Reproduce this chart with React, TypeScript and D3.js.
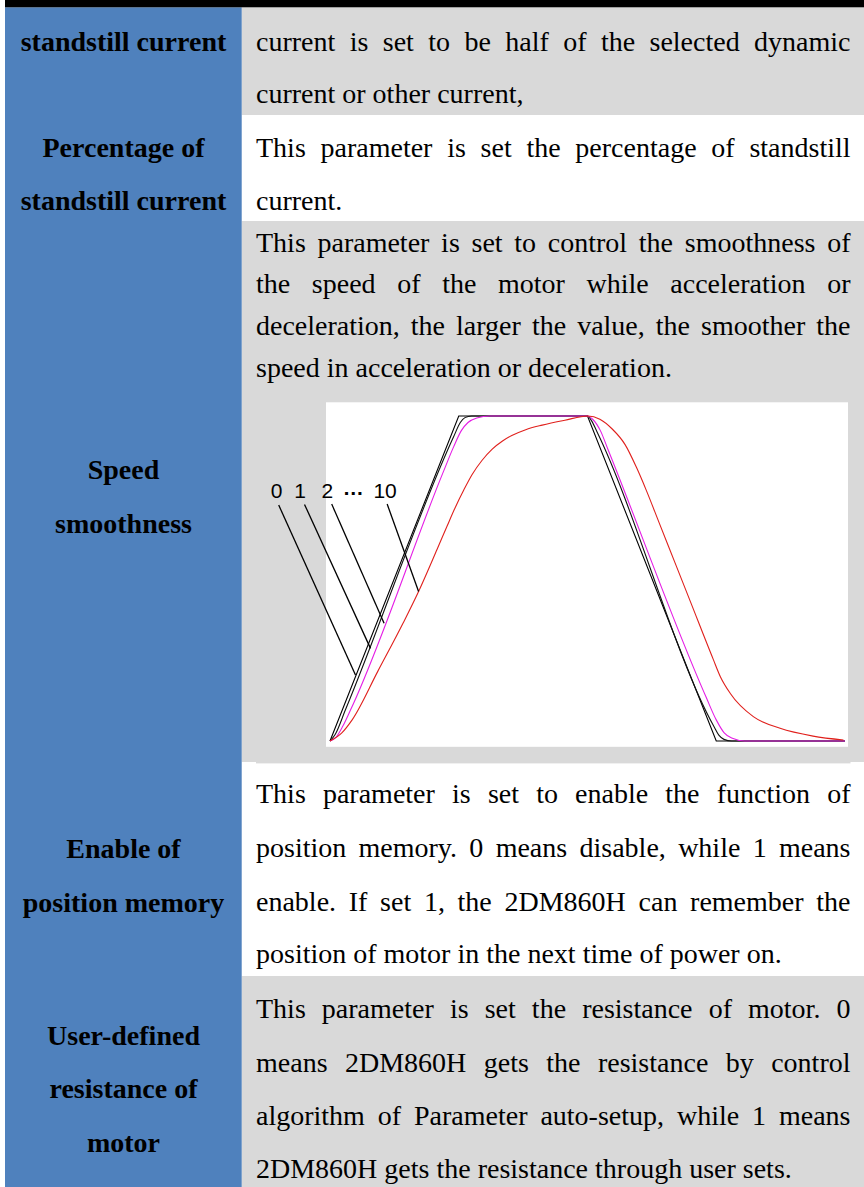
import React, { useEffect, useRef } from 'react';
import * as d3 from 'd3';

// ---- table content ----
const rowLabels = [
  ['standstill current'],
  ['Percentage of', 'standstill current'],
  ['Speed', 'smoothness'],
  ['Enable of', 'position memory'],
  ['User-defined', 'resistance of', 'motor'],
];

const rowTexts = [
  ['current is set to be half of the selected dynamic', 'current or other current,'],
  ['This parameter is set the percentage of standstill', 'current.'],
  [
    'This parameter is set to control the smoothness of',
    'the speed of the motor while acceleration or',
    'deceleration, the larger the value, the smoother the',
    'speed in acceleration or deceleration.',
  ],
  [
    'This parameter is set to enable the function of',
    'position memory. 0 means disable, while 1 means',
    'enable. If set 1, the 2DM860H can remember the',
    'position of motor in the next time of power on.',
  ],
  [
    'This parameter is set the resistance of motor. 0',
    'means 2DM860H gets the resistance by control',
    'algorithm of Parameter auto-setup, while 1 means',
    '2DM860H gets the resistance through user sets.',
  ],
];

// ---- speed smoothness curves: [time, speed] ----
const smooth0 = [[0, 0], [25, 100], [50, 100], [75, 0], [100, 0]];
const smooth1 = [
  [0, 0], [1, 2], [3, 9.6], [24, 93.6], [25.3, 98], [26.2, 99.5], [27.5, 100],
  [50, 100], [50.8, 98.5], [52, 94.6], [74.5, 4.6], [75.5, 1.8], [76.5, 0.5], [78, 0], [100, 0],
];
const smooth2 = [
  [0, 0], [1.2, 1.2], [2.5, 4.6], [4, 9.6], [22, 82.8], [24, 90.5], [25.5, 95.5],
  [26.8, 98], [28.5, 99.4], [31, 100], [50, 100], [51, 99], [52.5, 95.5], [54, 89.6],
  [73, 13.6], [75, 6.5], [76.5, 2.6], [78, 0.9], [80.5, 0], [100, 0],
];
const smooth10 = [
  [0, 0], [2.3, 2.5], [4.3, 6.5], [9.3, 21.5], [14.2, 36.3], [17.2, 46], [20.8, 59],
  [22.7, 66], [24.3, 71.8], [26, 77.3], [27.6, 82], [29.5, 86.3], [31.5, 89.8],
  [33.5, 92.3], [35.3, 94], [38, 95.8], [41.2, 97.2], [45.6, 98.7], [50.1, 100],
  [52.4, 99], [54.8, 96], [57.3, 91.2], [59.5, 84.2], [61.4, 77.2], [63.9, 67.2],
  [67, 54.8], [70, 42.8], [74.4, 25.2], [75.8, 19.8], [77.7, 14.7], [82.2, 7.5],
  [87.4, 3.9], [93.8, 1.5], [99.7, 0.3],
];

const smoothLabels = ['0', '1', '2', '\u2026', '10'];
const labelTime = [-10.35, -5.8, -0.5, 4.5, 10.7];
const labelSpeed = 74.8;
// leader lines from label to its curve
const leaderFrom = [[-9.96, 72.6], [-4.95, 72.8], [0.33, 72.9], [11.1, 72.9]];
const leaderTo = [[4.95, 20.3], [7.86, 28.5], [10.5, 36.2], [17.2, 46]];

const W = 864;
const H = 1187;

export default function App() {
  const svgRef = useRef(null);

  useEffect(() => {
    const svg = d3.select(svgRef.current);
    svg.selectAll('*').remove();

    const blue = '#4f81bd';
    const gray = '#d9d9d9';
    const colX = 241.7;
    const textL = 256;
    const textR = 850.5;

    const rows = [
      { y0: 7.3, y1: 115, fill: gray, labelY: [50.7], textY: [50.7, 103.3] },
      { y0: 115, y1: 221, fill: '#fff', labelY: [156.7, 210], textY: [156.7, 210] },
      { y0: 221, y1: 762, fill: gray, labelY: [479.3, 533.3], textY: [251.7, 293.3, 335, 376.7] },
      { y0: 762, y1: 976, fill: '#fff', labelY: [858.3, 911.7], textY: [803.3, 857.3, 910.7, 963.3] },
      { y0: 976, y1: H, fill: gray, labelY: [1045, 1098.3, 1151.7], textY: [1018.3, 1071.7, 1125, 1178.3] },
    ];

    svg.append('rect').attr('width', W).attr('height', H).attr('fill', '#fff');
    rows.forEach(r => {
      svg.append('rect')
        .attr('x', colX).attr('y', r.y0)
        .attr('width', W - colX).attr('height', r.y1 - r.y0)
        .attr('fill', r.fill);
    });
    // thin border line at top of row 4
    svg.append('rect').attr('x', textL).attr('y', 762).attr('width', textR - textL).attr('height', 1.4).attr('fill', gray);

    svg.append('rect').attr('x', 5).attr('y', 7.3).attr('width', colX - 5).attr('height', H - 7.3).attr('fill', blue);
    svg.append('rect').attr('x', 5).attr('y', 0).attr('width', W - 5).attr('height', 7.3).attr('fill', '#000');

    const serif = '"Liberation Serif", "Times New Roman", serif';

    // left column labels
    rowLabels.forEach((lines, i) => {
      lines.forEach((line, j) => {
        svg.append('text')
          .attr('x', 123.5).attr('y', rows[i].labelY[j])
          .attr('text-anchor', 'middle')
          .attr('font-family', serif).attr('font-size', 28).attr('font-weight', 'bold')
          .attr('fill', '#000')
          .text(line);
      });
    });

    // right column, justified
    rowTexts.forEach((lines, i) => {
      lines.forEach((line, j) => {
        const yy = rows[i].textY[j];
        const last = j === lines.length - 1;
        const words = last ? [line] : line.split(' ');
        const nodes = words.map(w => svg.append('text')
          .attr('y', yy)
          .attr('font-family', serif).attr('font-size', 28)
          .attr('fill', '#000')
          .text(w));
        if (words.length === 1) {
          nodes[0].attr('x', textL);
          return;
        }
        const widths = nodes.map(n => (n.node() as SVGTextElement).getComputedTextLength());
        const gap = (textR - textL - d3.sum(widths)) / (words.length - 1);
        let cx = textL;
        nodes.forEach((n, k) => {
          n.attr('x', cx);
          cx += widths[k] + gap;
        });
      });
    });

    // embedded speed chart
    svg.append('rect').attr('x', 326).attr('y', 402.3).attr('width', 522).attr('height', 344.5).attr('fill', '#fff');

    const x = d3.scaleLinear().domain([0, 100]).range([330, 845]);
    const y = d3.scaleLinear().domain([0, 100]).range([741, 416]);

    const series = [
      { pts: smooth0, color: '#000', curve: d3.curveLinear },
      { pts: smooth1, color: '#111', curve: d3.curveMonotoneX },
      { pts: smooth2, color: '#e51ee5', curve: d3.curveMonotoneX },
      { pts: smooth10, color: '#e0201c', curve: d3.curveMonotoneX },
    ];
    series.forEach(s => {
      const line = d3.line<number[]>()
        .x(d => x(d[0]))
        .y(d => y(d[1]))
        .curve(s.curve);
      svg.append('path')
        .attr('d', line(s.pts))
        .attr('fill', 'none')
        .attr('stroke', s.color)
        .attr('stroke-width', 1.1);
    });

    leaderFrom.forEach((f, i) => {
      svg.append('line')
        .attr('x1', x(f[0])).attr('y1', y(f[1]))
        .attr('x2', x(leaderTo[i][0])).attr('y2', y(leaderTo[i][1]))
        .attr('stroke', '#000').attr('stroke-width', 1.3);
    });

    smoothLabels.forEach((lab, i) => {
      svg.append('text')
        .attr('x', x(labelTime[i])).attr('y', y(labelSpeed) + (lab === '\u2026' ? -3 : 0))
        .attr('text-anchor', 'middle')
        .attr('font-family', '"Liberation Sans", Arial, sans-serif')
        .attr('font-size', 21)
        .attr('font-weight', lab === '\u2026' ? 'bold' : 'normal')
        .attr('fill', '#000')
        .text(lab);
    });
  }, []);

  return (
    <svg
      ref={svgRef}
      width={W}
      height={H}
      style={{ position: 'absolute', left: 0, top: 0, display: 'block' }}
    />
  );
}
